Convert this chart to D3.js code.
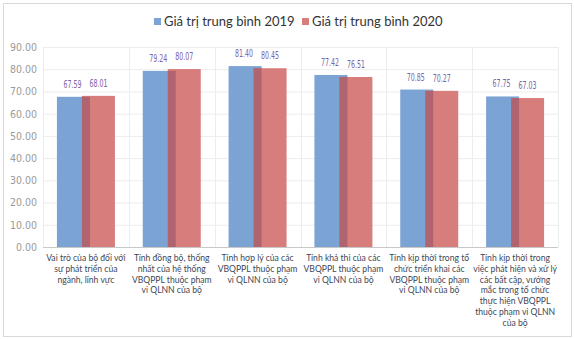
<!DOCTYPE html>
<html><head><meta charset="utf-8">
<script src="https://cdn.jsdelivr.net/npm/d3@7"></script>
<style>body{margin:0;background:#fff}svg{display:block}</style>
</head><body><svg id="c" width="575" height="339"></svg>
<script>
const categories = [
  ["Vai trò của bộ đối với","sự phát triển của","ngành, lĩnh vực"],
  ["Tính đồng bộ, thống","nhất của hệ thống","VBQPPL thuộc phạm","vi QLNN của bộ"],
  ["Tính hợp lý của các","VBQPPL thuộc phạm","vi QLNN của bộ"],
  ["Tính khả thi của các","VBQPPL thuộc phạm","vi QLNN của bộ"],
  ["Tính kịp thời trong tổ","chức triển khai các","VBQPPL thuộc phạm","vi QLNN của bộ"],
  ["Tính kịp thời trong","việc phát hiện và xử lý","các bất cập, vướng","mắc trong tổ chức","thực hiện VBQPPL","thuộc phạm vi QLNN","của bộ"]
];
const series2019 = [67.59, 79.24, 81.40, 77.42, 70.85, 67.75];
const series2020 = [68.01, 80.07, 80.45, 76.51, 70.27, 67.03];
const seriesNames = ["Giá trị trung bình 2019", "Giá trị trung bình 2020"];
const yTicks = [0,10,20,30,40,50,60,70,80,90];

const svg = d3.select("#c");
const W = 575, H = 339;
const m = {l:43, r:17, t:47, b:92};
const colors = ["#7BA3D3", "#D77E7D"];
const overlapColor = "#B0646F";

svg.append("rect").attr("x",3.5).attr("y",3.5).attr("width",W-7).attr("height",H-6)
  .attr("fill","#fff").attr("stroke","#d9d9d9");

const x = d3.scaleBand().domain(d3.range(categories.length)).range([m.l, W-m.r]).padding(0);
const y = d3.scaleLinear().domain([0,90]).range([H-m.b, m.t]);

// gridlines
svg.append("g").selectAll("line").data(yTicks).join("line")
  .attr("x1", m.l).attr("x2", W-m.r).attr("y1", d=>y(d)+0.5).attr("y2", d=>y(d)+0.5)
  .attr("stroke","#ececec");
svg.append("g").selectAll("line").data(d3.range(categories.length+1)).join("line")
  .attr("x1", d=>Math.round(m.l + d*x.bandwidth())+0.5).attr("x2", d=>Math.round(m.l + d*x.bandwidth())+0.5)
  .attr("y1", y(90)).attr("y2", y(0)).attr("stroke","#ececec");

// y axis labels
const yAxis = d3.axisLeft(y).tickValues(yTicks).tickFormat(d3.format(".2f")).tickSize(0).tickPadding(6);
const ya = svg.append("g").attr("transform",`translate(${m.l},0)`).call(yAxis);
ya.select(".domain").remove();
ya.selectAll("text").attr("font-family","DejaVu Sans Condensed, DejaVu Sans").attr("font-stretch","condensed")
  .attr("font-size",10.5).attr("fill","#9a9a9a");

// bars
const bw = 33, ov = 8;
const g = svg.append("g");
const cx = i => x(i) + x.bandwidth()/2;
const bx0 = i => cx(i) - bw + ov/2;        // blue left
const bx1 = i => cx(i) - ov/2;             // red left
g.selectAll(".b19").data(series2019).join("rect")
  .attr("x",(d,i)=>bx0(i)).attr("width",bw).attr("y",d=>y(d)).attr("height",d=>y(0)-y(d)).attr("fill",colors[0]);
g.selectAll(".b20").data(series2020).join("rect")
  .attr("x",(d,i)=>bx1(i)).attr("width",bw).attr("y",d=>y(d)).attr("height",d=>y(0)-y(d)).attr("fill",colors[1]);
g.selectAll(".ov").data(series2020).join("rect")
  .attr("x",(d,i)=>bx1(i)).attr("width",ov).attr("y",(d,i)=>y(Math.min(d,series2019[i])))
  .attr("height",(d,i)=>y(0)-y(Math.min(d,series2019[i]))).attr("fill",overlapColor);

// baseline
svg.append("line").attr("x1",m.l).attr("x2",W-m.r).attr("y1",y(0)+0.5).attr("y2",y(0)+0.5).attr("stroke","#c8c8c8");

// value labels
const lblFont = "DejaVu Sans Condensed, DejaVu Sans";
g.selectAll(".l19").data(series2019).join("text")
  .attr("x",(d,i)=>bx0(i)+bw/2-1).attr("y",d=>y(d)-9).attr("text-anchor","middle")
  .attr("font-family",lblFont).attr("font-stretch","condensed").attr("font-size",11).attr("fill","#7E63A8")
  .attr("textLength",18).attr("lengthAdjust","spacingAndGlyphs")
  .text(d=>d.toFixed(2));
g.selectAll(".l20").data(series2020).join("text")
  .attr("x",(d,i)=>bx1(i)+bw/2).attr("y",d=>y(d)-9).attr("text-anchor","middle")
  .attr("font-family",lblFont).attr("font-stretch","condensed").attr("font-size",11).attr("fill","#7E63A8")
  .attr("textLength",18).attr("lengthAdjust","spacingAndGlyphs")
  .text(d=>d.toFixed(2));

// category labels
const cl = svg.append("g");
categories.forEach((lines,i)=>{
  const t = cl.append("text").attr("x",cx(i)).attr("y",y(0)+14).attr("text-anchor","middle")
    .attr("font-family","Lato, Open Sans, sans-serif").attr("font-size",8.6).attr("fill","#3d4758");
  lines.forEach((s,k)=>t.append("tspan").attr("x",cx(i)).attr("dy",k?10.8:0).text(s));
});

// legend
const lg = svg.append("g");
const lx = [154, 302];
seriesNames.forEach((s,i)=>{
  lg.append("rect").attr("x",lx[i]).attr("y",18).attr("width",7).attr("height",7).attr("fill",colors[i]);
  lg.append("text").attr("x",lx[i]+10).attr("y",26).attr("font-family","Lato, Open Sans, sans-serif")
    .attr("font-size",13).attr("fill","#333").text(s);
});
</script></body></html>
